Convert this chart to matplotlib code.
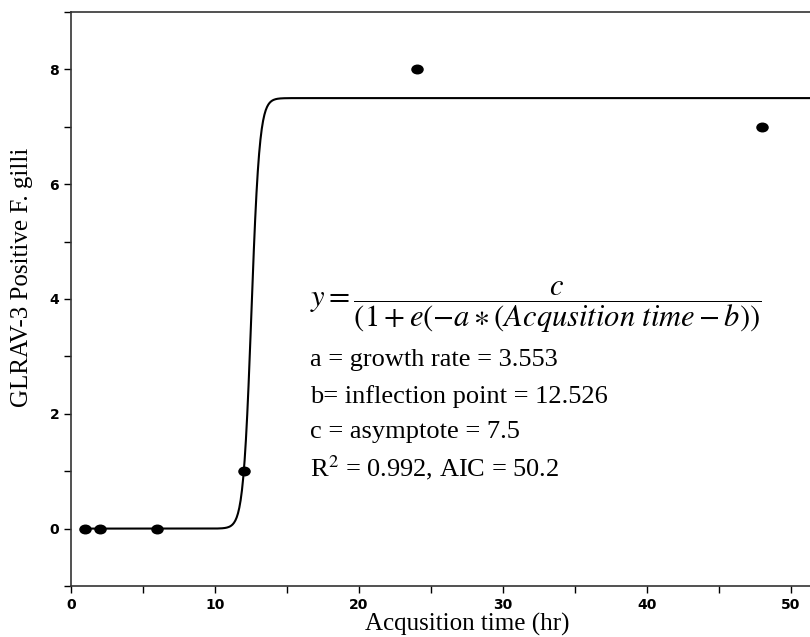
import numpy as np
import matplotlib
matplotlib.use("Agg")
import matplotlib.pyplot as plt
from matplotlib.ticker import MultipleLocator
from matplotlib.path import Path
from matplotlib.transforms import Affine2D

# observed points
hours = [1, 2, 6, 12, 24, 48]
positives = [0, 0, 0, 1, 8, 7]

# fitted logistic parameters (from the annotation)
growth_rate = 3.553
inflection = 12.526
asymptote = 7.5

plt.rcParams['mathtext.fontset'] = 'stix'

fig = plt.figure(figsize=(8.1, 6.37), dpi=100)
# axes run past the right edge of the image, as in the original crop
ax = fig.add_axes([71 / 810, 51 / 637, 792 / 810, 574 / 637])

# slightly flattened dots
dot = Path.unit_circle().transformed(Affine2D().scale(1.3, 1.0))

t = np.linspace(1, 56, 1200)
fit = asymptote / (1 + np.exp(-growth_rate * (t - inflection)))
ax.plot(t, fit, color='black', lw=1.5, zorder=2)
ax.plot(hours, positives, linestyle='none', marker=dot, color='black', ms=8, zorder=3)

ax.set_xlim(0, 55)
ax.set_ylim(-1, 9)
ax.xaxis.set_major_locator(MultipleLocator(10))
ax.xaxis.set_minor_locator(MultipleLocator(5))
ax.yaxis.set_major_locator(MultipleLocator(2))
ax.yaxis.set_minor_locator(MultipleLocator(1))
ax.tick_params(which='both', direction='out', length=5, width=1, labelsize=10)
for lab in ax.get_xticklabels() + ax.get_yticklabels():
    lab.set_fontweight('bold')
for sp in ax.spines.values():
    sp.set_linewidth(1.2)
    sp.set_color('#333333')

ax.set_xlabel('Acqusition time (hr)', family='Liberation Serif', fontsize=18, labelpad=1)
ax.set_ylabel('GLRAV-3 Positive F. gilli', family='Liberation Serif', fontsize=18)
ax.yaxis.set_label_coords(-0.048, 0.538)

ax.text(16.6, 3.86, r'$y = \dfrac{c}{(1 + e(-a \ast (Acqusition\ time - b))}$',
        fontsize=22, va='center', ha='left')
lines = ['a = growth rate = 3.553', 'b= inflection point = 12.526',
         'c = asymptote = 7.5', 'R$^2$ = 0.992, AIC = 50.2']
for i, s in enumerate(lines):
    ax.text(16.6, 2.93 - 0.625 * i, s, fontsize=19, va='center', ha='left',
            family='Liberation Serif')

fig.savefig('out.png', dpi=100)
